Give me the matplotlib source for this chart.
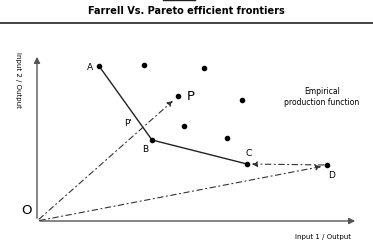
import numpy as np
import matplotlib
matplotlib.use('Agg')
import matplotlib.pyplot as plt

# observed firms (input1/output, input2/output)
dots_x = [107, 167, 205, 147, 190]
dots_y = [156, 153, 121, 95, 83]

frontier_names = ['A', 'B', 'C', 'D']
frontier_x = [62, 115, 210, 290]
frontier_y = [155, 81, 57, 56]

p_x, p_y = 141, 125
p_prime_x, p_prime_y = 91, 98

fig = plt.figure(figsize=(3.73, 2.53), dpi=100)
fig.patch.set_facecolor('white')

fig.text(0.5, 0.955, 'Farrell Vs. Pareto efficient frontiers', ha='center', va='center',
         fontsize=7.0, fontweight='bold', family='DejaVu Sans')
fig.add_artist(plt.Line2D([0.0, 1.0], [0.907, 0.907], color='#222222', lw=1.2))
fig.add_artist(plt.Line2D([0.437, 0.523], [0.995, 0.995], color='#222222', lw=1.0))

ax = fig.add_axes([37 / 373, 31 / 253, 321 / 373, 167 / 253])
ax.set_xlim(0, 321)
ax.set_ylim(0, 167)
ax.axis('off')

# axes with arrows
ax.annotate('', xy=(321, 0), xytext=(0, 0),
            arrowprops=dict(arrowstyle='-|>', color='#555555', lw=1.0, mutation_scale=9))
ax.annotate('', xy=(0, 167), xytext=(0, 0),
            arrowprops=dict(arrowstyle='-|>', color='#555555', lw=1.0, mutation_scale=9))

# frontier A-B-C solid, C-D dash-dot
ax.plot(frontier_x[:3], frontier_y[:3], color='#222222', lw=1.0)
ax.plot(frontier_x, frontier_y, 'o', color='black', ms=3)
ax.plot(dots_x, dots_y, 'o', color='black', ms=3)
ax.plot([p_x], [p_y], 'o', color='black', ms=3)

dd = dict(color='#333333', lw=0.8, linestyle=(0, (5, 3, 1, 3)))
ax.annotate('', xy=(p_x - 3, p_y - 3), xytext=(0, 0),
            arrowprops=dict(arrowstyle='-|>', mutation_scale=8, **dd))
ax.annotate('', xy=(frontier_x[3] - 3, frontier_y[3] - 1), xytext=(0, 0),
            arrowprops=dict(arrowstyle='-|>', mutation_scale=8, **dd))
ax.annotate('', xy=(frontier_x[2] + 2, frontier_y[2]), xytext=(frontier_x[3], frontier_y[3]),
            arrowprops=dict(arrowstyle='-|>', mutation_scale=8, **dd))

# labels
ax.text(frontier_x[0] - 9, frontier_y[0], 'A', fontsize=6.5, ha='center', va='center')
ax.text(frontier_x[1] - 7, frontier_y[1] - 9, 'B', fontsize=6.5, ha='center', va='center')
ax.text(frontier_x[2] + 2, frontier_y[2] + 12, 'C', fontsize=6.5, ha='center', va='center')
ax.text(frontier_x[3] + 5, frontier_y[3] - 9, 'D', fontsize=6.5, ha='center', va='center')
ax.text(p_x + 13, p_y, 'P', fontsize=9.5, ha='center', va='center')
ax.text(p_prime_x, p_prime_y, "P'", fontsize=6.5, ha='center', va='center')
ax.text(-11, 11, 'O', fontsize=9.5, ha='center', va='center')
ax.text(285, 125, 'Empirical\nproduction function', fontsize=5.5, ha='center', va='center',
        linespacing=1.3)
ax.text(286, -15, 'Input 1 / Output', fontsize=5, ha='center', va='center')
ax.text(-19, 142, 'Input 2 / Output', fontsize=5, ha='center', va='center', rotation=-90)

fig.savefig('out.png', dpi=100, facecolor='white')
